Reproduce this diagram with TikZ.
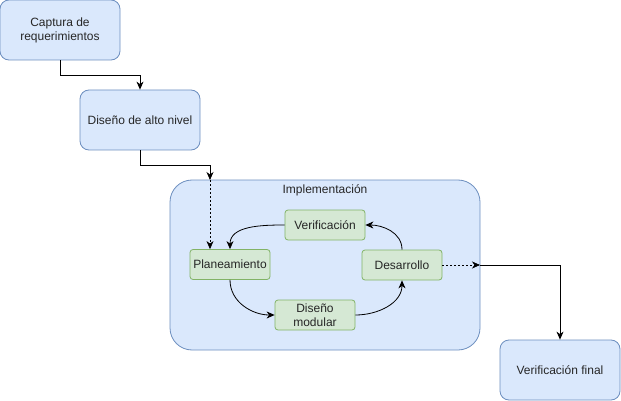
\documentclass[tikz,border=0pt]{standalone}
\usepackage{fontspec}
\setmainfont{Liberation Sans}
\usetikzlibrary{arrows.meta,positioning}
\definecolor{bfill}{HTML}{DAE8FC}
\definecolor{bdraw}{HTML}{6C8EBF}
\definecolor{gfill}{HTML}{D5E8D4}
\definecolor{gdraw}{HTML}{82B366}
\begin{document}
\begin{tikzpicture}[x=1pt,y=-1pt,
  font=\fontsize{12}{14}\selectfont,
  bluebox/.style={draw=bdraw,fill=bfill,rounded corners=9pt,line width=0.8pt,minimum width=120pt,minimum height=60pt,inner sep=0pt,align=center,text=black!85},
  greenbox/.style={draw=gdraw,fill=gfill,rounded corners=3pt,line width=0.8pt,minimum width=80pt,minimum height=30pt,inner sep=0pt,align=center,text=black!85},
  container/.style={draw=bdraw,fill=bfill,rounded corners=22pt,line width=0.8pt,minimum width=310pt,minimum height=170pt,inner sep=0pt},
  conn/.style={line width=0.8pt,-{Stealth[length=8pt,width=7pt,inset=2.5pt]}},
  dconn/.style={conn,dash pattern=on 2pt off 2pt,line width=0.6pt}
]
\useasboundingbox (0,0) rectangle (621,401);
\node[bluebox] (cap) at (60,30) {Captura de\\requerimientos};
\node[bluebox] (dis) at (140,120) {Diseño de alto nivel};
\node[container] (impl) at (325,265) {};
\node[anchor=north,text=black!85] (impltitle) at (325,181) {Implementación};
\node[bluebox] (vf) at (560,370) {Verificación final};
\node[greenbox] (ver) at (325,225) {Verificación};
\node[greenbox] (pla) at (230,264.5) {Planeamiento};
\node[greenbox] (des) at (402,265) {Desarrollo};
\node[greenbox] (mod) at (315,315) {Diseño\\modular};
\coordinate (implin) at (210,180);
\coordinate (implout) at (480,265);
\draw[conn] (cap.south) |- (140,75) -- (dis.north);
\draw[conn] (dis.south) |- (210,165) -- (implin);
\draw[dconn] (implin) -- (pla.north -| implin);
\draw[conn] (ver.west) to[out=180,in=90] (pla.north);
\draw[conn] (pla.south) to[out=-90,in=180] (mod.west);
\draw[conn] (mod.east) to[out=0,in=-90] (des.south);
\draw[conn] (des.north) to[out=90,in=0] (ver.east);
\draw[dconn] (des.east) -- (implout);
\draw[conn] (implout) -| (vf.north);
\end{tikzpicture}
\end{document}
